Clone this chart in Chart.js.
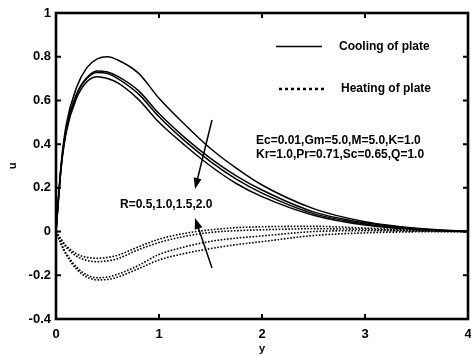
<!DOCTYPE html>
<html>
<head>
<meta charset="utf-8">
<script src="https://cdn.jsdelivr.net/npm/chart.js@4"></script>
<style>
  html, body { margin: 0; padding: 0; background: #fff; }
  #wrap { width: 471px; height: 356px; }
</style>
</head>
<body>
<div id="wrap"><canvas id="velocity"></canvas></div>
<script>
// grid of y positions shared by every profile
const yPos = [0, 0.05, 0.1, 0.2, 0.3, 0.4, 0.5, 0.6, 0.8, 1.0, 1.25, 1.5, 1.75, 2.0, 2.5, 3.0, 3.5, 4.0];

// cooling of plate, R = 0.5, 1.0, 1.5, 2.0
const coolR05 = [0, 0.31, 0.49, 0.66, 0.75, 0.79, 0.80, 0.785, 0.725, 0.61, 0.49, 0.38, 0.29, 0.213, 0.105, 0.045, 0.015, 0.0];
const coolR10 = [0, 0.30, 0.47, 0.63, 0.705, 0.735, 0.73, 0.71, 0.645, 0.54, 0.43, 0.335, 0.255, 0.19, 0.09, 0.04, 0.013, 0.0];
const coolR15 = [0, 0.295, 0.465, 0.625, 0.70, 0.728, 0.723, 0.70, 0.63, 0.525, 0.415, 0.32, 0.24, 0.176, 0.082, 0.035, 0.011, 0.0];
const coolR20 = [0, 0.29, 0.455, 0.61, 0.685, 0.708, 0.70, 0.68, 0.605, 0.50, 0.395, 0.30, 0.22, 0.16, 0.075, 0.03, 0.009, 0.0];

// heating of plate
const heatA = [0, -0.035, -0.065, -0.102, -0.118, -0.122, -0.118, -0.108, -0.07, -0.035, -0.008, 0.008, 0.018, 0.022, 0.024, 0.016, 0.007, 0.0];
const heatB = [0, -0.04, -0.072, -0.113, -0.132, -0.138, -0.134, -0.124, -0.083, -0.05, -0.022, -0.004, 0.004, 0.008, 0.013, 0.01, 0.004, 0.0];
const heatC = [0, -0.055, -0.10, -0.163, -0.198, -0.211, -0.208, -0.195, -0.155, -0.105, -0.07, -0.045, -0.03, -0.02, 0.0, 0.004, 0.002, 0.0];
const heatD = [0, -0.06, -0.107, -0.172, -0.208, -0.221, -0.219, -0.208, -0.17, -0.13, -0.10, -0.078, -0.06, -0.046, -0.018, -0.006, -0.001, 0.0];

const xTicks = [0, 1, 2, 3, 4];
const yTicks = [-0.4, -0.2, 0, 0.2, 0.4, 0.6, 0.8, 1];

const FONT = "'Liberation Sans', Arial, sans-serif";

function pts(vals) {
  return vals.map((v, i) => ({ x: yPos[i], y: v }));
}

function solid(vals) {
  return {
    data: pts(vals), borderColor: "#000", borderWidth: 1.5,
    pointRadius: 0, cubicInterpolationMode: "monotone", fill: false,
  };
}

function dotted(vals) {
  return {
    data: pts(vals), borderColor: "#000", borderWidth: 1.6, borderDash: [1.6, 1.6],
    pointRadius: 0, cubicInterpolationMode: "monotone", fill: false,
  };
}

function arrow(ctx, x1, y1, x2, y2) {
  const a = Math.atan2(y2 - y1, x2 - x1);
  const len = 11, half = 4;
  ctx.beginPath();
  ctx.moveTo(x1, y1);
  ctx.lineTo(x2 - Math.cos(a) * len * 0.8, y2 - Math.sin(a) * len * 0.8);
  ctx.lineWidth = 1.5;
  ctx.stroke();
  ctx.beginPath();
  ctx.moveTo(x2, y2);
  ctx.lineTo(x2 - Math.cos(a) * len - Math.sin(a) * half, y2 - Math.sin(a) * len + Math.cos(a) * half);
  ctx.lineTo(x2 - Math.cos(a) * len + Math.sin(a) * half, y2 - Math.sin(a) * len - Math.cos(a) * half);
  ctx.closePath();
  ctx.fill();
}

// box, inward ticks, legend and notes
const decor = {
  id: "decor",
  afterDraw(chart) {
    const { ctx, chartArea: a, scales } = chart;
    ctx.save();
    ctx.strokeStyle = "#000";
    ctx.fillStyle = "#000";

    ctx.lineWidth = 2;
    const tl = 5;
    ctx.beginPath();
    xTicks.forEach(v => {
      const px = scales.x.getPixelForValue(v);
      ctx.moveTo(px, a.bottom); ctx.lineTo(px, a.bottom - tl);
      ctx.moveTo(px, a.top); ctx.lineTo(px, a.top + tl);
    });
    yTicks.forEach(v => {
      const py = scales.y.getPixelForValue(v);
      ctx.moveTo(a.left, py); ctx.lineTo(a.left + tl, py);
      ctx.moveTo(a.right, py); ctx.lineTo(a.right - tl, py);
    });
    ctx.stroke();

    ctx.lineWidth = 2.6;
    ctx.strokeRect(a.left, a.top, a.right - a.left, a.bottom - a.top);

    // legend
    ctx.lineWidth = 1.5;
    ctx.beginPath();
    ctx.moveTo(276, 46.5); ctx.lineTo(322, 46.5);
    ctx.stroke();
    ctx.lineWidth = 2.5;
    ctx.setLineDash([3, 3]);
    ctx.beginPath();
    ctx.moveTo(279, 89); ctx.lineTo(324, 89);
    ctx.stroke();
    ctx.setLineDash([]);

    ctx.font = "bold 12px " + FONT;
    ctx.textBaseline = "middle";
    ctx.textAlign = "left";
    ctx.fillText("Cooling of plate", 339, 47);
    ctx.fillText("Heating of plate", 341, 89);

    ctx.fillText("Ec=0.01,Gm=5.0,M=5.0,K=1.0", 256, 141);
    ctx.fillText("Kr=1.0,Pr=0.71,Sc=0.65,Q=1.0", 256, 154.5);
    ctx.fillText("R=0.5,1.0,1.5,2.0", 120, 205);

    arrow(ctx, 212, 120, 195, 189);
    arrow(ctx, 212, 268, 195, 218);
    ctx.restore();
  },
};

const tickFont = { family: FONT, size: 13, weight: "bold" };

new Chart(document.getElementById("velocity"), {
  type: "line",
  data: {
    datasets: [
      solid(coolR05), solid(coolR10), solid(coolR15), solid(coolR20),
      dotted(heatA), dotted(heatB), dotted(heatC), dotted(heatD),
    ],
  },
  options: {
    responsive: true,
    maintainAspectRatio: false,
    animation: false,
    layout: { padding: { left: 0, right: 3, top: 13, bottom: 0 } },
    plugins: { legend: { display: false }, tooltip: { enabled: false } },
    scales: {
      x: {
        type: "linear", min: 0, max: 4,
        afterBuildTicks: s => { s.ticks = xTicks.map(v => ({ value: v })); },
        afterFit: s => { s.height = 37; s.paddingLeft = 0; s.paddingRight = 0; },
        grid: { display: false, drawTicks: false },
        border: { display: false },
        ticks: { color: "#000", padding: 8, maxRotation: 0, font: tickFont, callback: v => String(v) },
        title: { display: true, text: "y", color: "#000", padding: { top: 0, bottom: 0 },
                 font: { family: FONT, size: 11, weight: "bold" } },
      },
      y: {
        type: "linear", min: -0.4, max: 1,
        afterBuildTicks: s => { s.ticks = yTicks.map(v => ({ value: v })); },
        afterFit: s => { s.width = 56; s.paddingTop = 0; s.paddingBottom = 0; },
        grid: { display: false, drawTicks: false },
        border: { display: false },
        ticks: { color: "#000", padding: 5, font: tickFont, callback: v => String(v) },
        title: { display: true, text: "u", color: "#000", padding: { top: 6, bottom: 0 },
                 font: { family: FONT, size: 11, weight: "bold" } },
      },
    },
  },
  plugins: [decor],
});
</script>
</body>
</html>
